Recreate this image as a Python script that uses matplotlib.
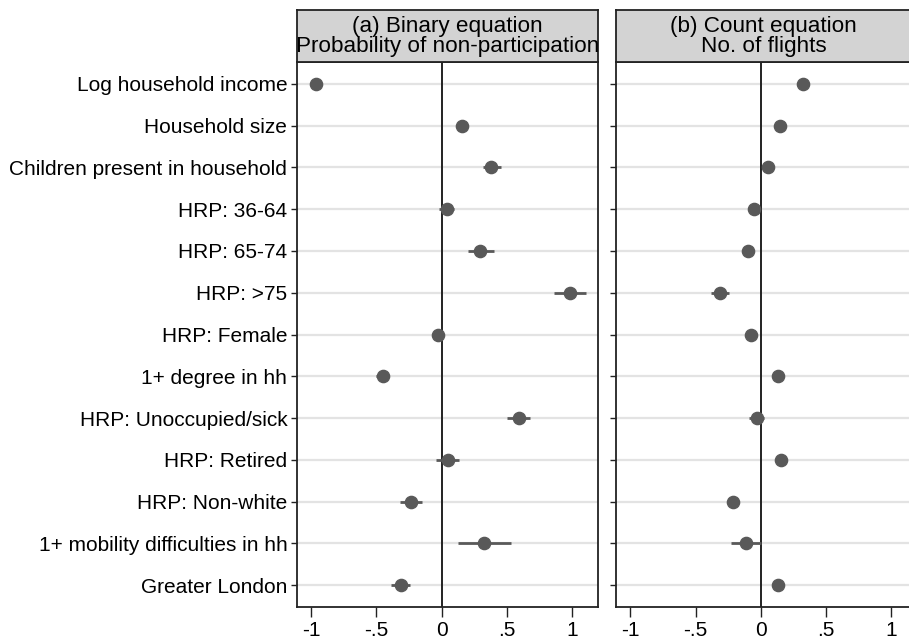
import matplotlib
matplotlib.use("Agg")
import matplotlib.pyplot as plt
import numpy as np

plt.rcParams['font.family'] = ['Liberation Sans', 'DejaVu Sans']

labels = ["Log household income", "Household size", "Children present in household",
          "HRP: 36-64", "HRP: 65-74", "HRP: >75", "HRP: Female", "1+ degree in hh",
          "HRP: Unoccupied/sick", "HRP: Retired", "HRP: Non-white",
          "1+ mobility difficulties in hh", "Greater London"]

bin_coef = [-0.962, 0.153, 0.377, 0.041, 0.296, 0.984, -0.031, -0.447, 0.589, 0.046, -0.235, 0.326, -0.309]
bin_lo   = [-1.00, 0.12, 0.314, -0.02, 0.199, 0.862, -0.06, -0.50, 0.50, -0.044, -0.321, 0.122, -0.385]
bin_hi   = [-0.92, 0.18, 0.451, 0.096, 0.40, 1.104, 0.00, -0.40, 0.678, 0.132, -0.151, 0.533, -0.24]

cnt_coef = [0.322, 0.143, 0.054, -0.056, -0.097, -0.314, -0.079, 0.130, -0.033, 0.153, -0.211, -0.115, 0.128]
cnt_lo   = [0.30, 0.12, 0.03, -0.08, -0.13, -0.385, -0.10, 0.11, -0.094, 0.13, -0.23, -0.232, 0.11]
cnt_hi   = [0.34, 0.165, 0.075, -0.03, -0.06, -0.247, -0.055, 0.15, 0.026, 0.175, -0.19, 0.0, 0.145]

titles = ["(a) Binary equation\nProbability of non-participation", "(b) Count equation\nNo. of flights"]
xticks = [-1, -0.5, 0, 0.5, 1]
xticklabels = ["-1", "-.5", "0", ".5", "1"]

W, H = 909, 644
fig = plt.figure(figsize=(W/100, H/100), dpi=100)

panels = [
    (297, 598, (-1.107, 1.197), bin_coef, bin_lo, bin_hi, True),
    (616, 911, (-1.11, 1.15), cnt_coef, cnt_lo, cnt_hi, False),
]
top, bottom, strip_top = 62, 607, 10
y = np.arange(len(labels))
mcol = '#595959'
fs = 15.0
tfs = 16.2

for i, (x0, x1, xl, coef, lo, hi, showy) in enumerate(panels):
    ax = fig.add_axes([x0/W, 1-bottom/H, (x1-x0)/W, (bottom-top)/H])
    for yy in y:
        ax.axhline(yy, color='#e3e3e3', lw=1.6, zorder=0)
    ax.axvline(0, color='#222222', lw=1.4, zorder=1)
    ax.hlines(y, lo, hi, color=mcol, lw=2, zorder=2)
    ax.plot(coef, y, 'o', color=mcol, ms=8.8, zorder=3, mec=mcol)
    ax.set_xlim(*xl)
    ax.set_ylim(len(labels)-0.48, -0.52)
    ax.set_xticks(xticks)
    ax.set_xticklabels(xticklabels, fontsize=fs)
    ax.set_yticks(y)
    if showy:
        ax.set_yticklabels(labels, fontsize=fs)
    else:
        ax.set_yticklabels([])
    ax.tick_params(axis='x', length=7, width=1, pad=3, color='#222222')
    ax.tick_params(axis='y', length=4, width=1, pad=3, color='#222222')
    for s in ax.spines.values():
        s.set_color('#222222')
        s.set_linewidth(1.3)
    hx = fig.add_axes([x0/W, 1-top/H, (x1-x0)/W, (top-strip_top)/H])
    hx.set_facecolor('#d3d3d3')
    hx.set_xticks([]); hx.set_yticks([])
    for s in hx.spines.values():
        s.set_color('#222222')
        s.set_linewidth(1.3)
    hx.text(0.5, 0.49, titles[i], ha='center', va='center', fontsize=tfs,
            linespacing=0.9, transform=hx.transAxes)

fig.savefig("out.png", dpi=100, facecolor='white')
